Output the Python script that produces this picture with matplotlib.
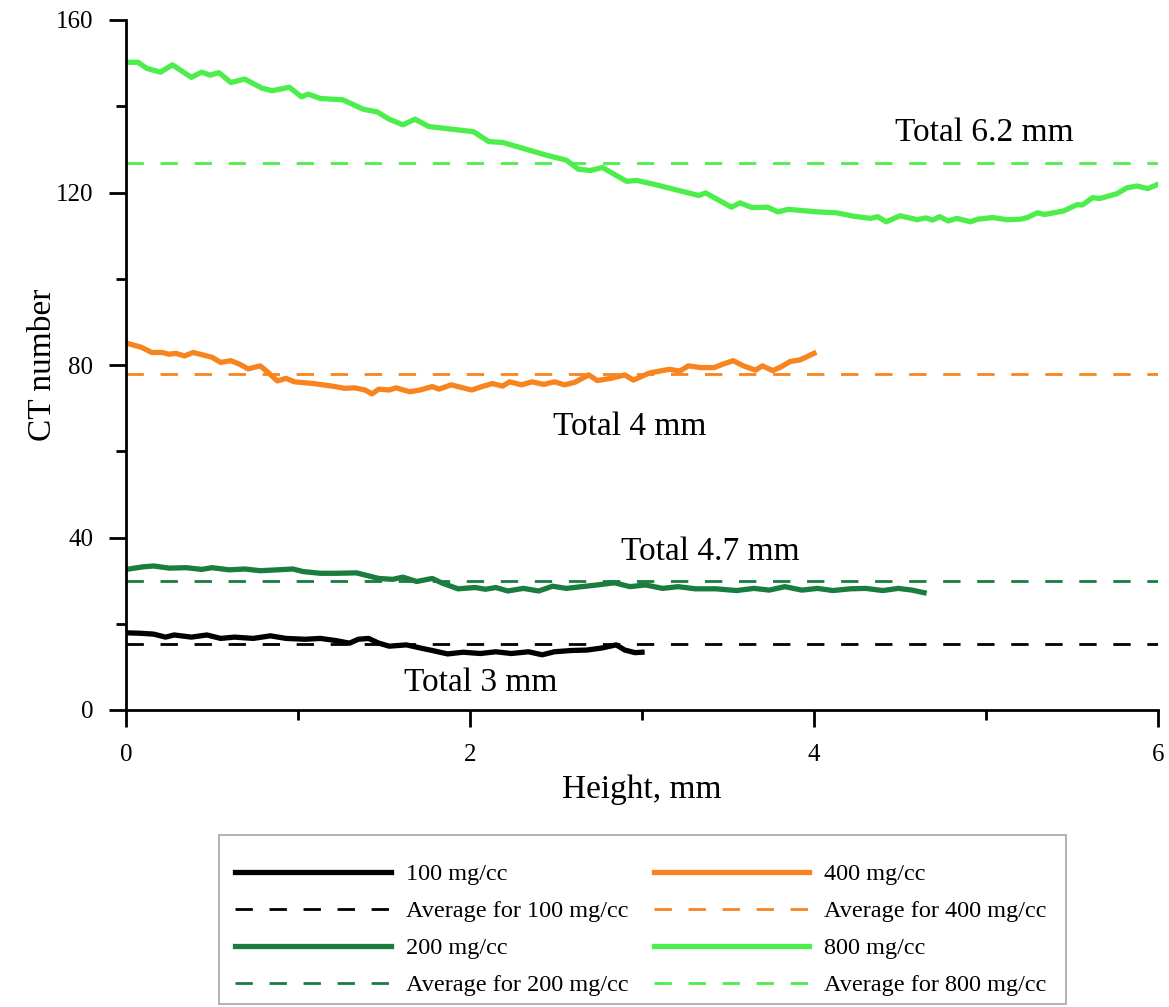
import matplotlib
matplotlib.use("Agg")
from matplotlib import pyplot as plt
from matplotlib.patches import Rectangle
from matplotlib.ticker import MultipleLocator

plt.rcParams['font.family'] = ['Liberation Serif', 'DejaVu Serif']
plt.rcParams['lines.scale_dashes'] = False

# 100 mg/cc (black)
h100 = [0.00, 0.08, 0.16, 0.23, 0.28, 0.38, 0.47, 0.55, 0.63, 0.74, 0.84, 0.93, 1.04, 1.13,
        1.22, 1.30, 1.35, 1.41, 1.47, 1.53, 1.63, 1.72, 1.78, 1.87, 1.96, 2.06, 2.15, 2.24,
        2.34, 2.42, 2.49, 2.59, 2.68, 2.77, 2.85, 2.90, 2.96, 3.00]
ct100 = [17.9, 17.8, 17.6, 16.9, 17.4, 16.9, 17.4, 16.6, 16.9, 16.6, 17.2, 16.6, 16.4, 16.6,
         16.1, 15.5, 16.4, 16.6, 15.5, 14.8, 15.1, 14.3, 13.8, 13.0, 13.4, 13.1, 13.5, 13.1,
         13.5, 12.8, 13.5, 13.8, 13.9, 14.4, 15.1, 13.9, 13.3, 13.4]

# 200 mg/cc (dark green)
h200 = [0.00, 0.10, 0.16, 0.25, 0.35, 0.44, 0.50, 0.60, 0.69, 0.78, 0.88, 0.97, 1.03, 1.13,
        1.22, 1.34, 1.41, 1.47, 1.55, 1.61, 1.69, 1.78, 1.84, 1.93, 2.03, 2.09, 2.15, 2.22,
        2.31, 2.40, 2.48, 2.56, 2.65, 2.74, 2.84, 2.93, 3.02, 3.12, 3.21, 3.31, 3.43, 3.55,
        3.65, 3.74, 3.83, 3.93, 4.02, 4.11, 4.21, 4.30, 4.40, 4.49, 4.57, 4.64]
ct200 = [32.6, 33.2, 33.4, 32.9, 33.0, 32.6, 33.0, 32.5, 32.7, 32.3, 32.5, 32.7, 32.1, 31.7,
         31.7, 31.8, 31.1, 30.5, 30.3, 30.8, 29.8, 30.5, 29.4, 28.1, 28.4, 28.0, 28.4, 27.6,
         28.2, 27.6, 28.7, 28.2, 28.6, 29.0, 29.5, 28.6, 29.0, 28.2, 28.6, 28.1, 28.1, 27.7,
         28.2, 27.8, 28.6, 27.8, 28.2, 27.7, 28.1, 28.2, 27.7, 28.2, 27.8, 27.2]

# 400 mg/cc (orange)
h400 = [0.01, 0.09, 0.15, 0.21, 0.25, 0.29, 0.34, 0.39, 0.43, 0.50, 0.55, 0.61, 0.66, 0.71,
        0.78, 0.82, 0.88, 0.93, 0.98, 1.09, 1.20, 1.27, 1.33, 1.39, 1.43, 1.47, 1.53, 1.57,
        1.65, 1.71, 1.78, 1.82, 1.89, 1.96, 2.01, 2.07, 2.13, 2.19, 2.23, 2.30, 2.36, 2.43,
        2.49, 2.55, 2.61, 2.69, 2.74, 2.82, 2.90, 2.95, 3.04, 3.09, 3.16, 3.22, 3.27, 3.34,
        3.42, 3.47, 3.53, 3.59, 3.66, 3.70, 3.76, 3.81, 3.86, 3.92, 4.00]
ct400 = [85.0, 84.1, 82.9, 82.9, 82.5, 82.7, 82.1, 82.9, 82.5, 81.8, 80.6, 81.0, 80.2, 79.1,
         79.8, 78.5, 76.3, 76.9, 76.1, 75.7, 75.1, 74.6, 74.7, 74.2, 73.3, 74.4, 74.2, 74.7,
         73.8, 74.2, 75.0, 74.4, 75.4, 74.7, 74.2, 75.0, 75.7, 75.1, 76.1, 75.4, 76.1, 75.5,
         76.1, 75.4, 76.0, 77.7, 76.4, 76.9, 77.7, 76.5, 78.1, 78.5, 79.0, 78.6, 79.8, 79.4,
         79.4, 80.2, 81.0, 79.8, 78.8, 79.8, 78.7, 79.6, 80.8, 81.2, 82.7]

# 800 mg/cc (light green)
h800 = [0.00, 0.07, 0.12, 0.20, 0.27, 0.38, 0.44, 0.49, 0.54, 0.61, 0.69, 0.79, 0.85, 0.95,
        1.02, 1.06, 1.13, 1.26, 1.38, 1.46, 1.53, 1.61, 1.68, 1.76, 1.89, 2.02, 2.11, 2.19,
        2.32, 2.44, 2.56, 2.63, 2.70, 2.77, 2.91, 2.97, 3.07, 3.25, 3.33, 3.37, 3.52, 3.57,
        3.64, 3.73, 3.79, 3.85, 4.02, 4.13, 4.23, 4.33, 4.37, 4.42, 4.50, 4.60, 4.65, 4.69,
        4.73, 4.78, 4.83, 4.91, 4.95, 5.04, 5.12, 5.20, 5.24, 5.30, 5.34, 5.45, 5.53, 5.56,
        5.62, 5.66, 5.76, 5.82, 5.88, 5.94, 6.00]
ct800 = [150.2, 150.2, 148.8, 147.9, 149.6, 146.7, 147.9, 147.2, 147.8, 145.5, 146.3, 144.2,
         143.6, 144.4, 142.2, 142.8, 141.8, 141.5, 139.3, 138.7, 137.0, 135.7, 137.0, 135.3,
         134.7, 134.1, 131.8, 131.6, 130.1, 128.7, 127.5, 125.4, 125.1, 125.8, 122.6, 122.8,
         121.9, 120.1, 119.3, 119.9, 116.6, 117.6, 116.5, 116.6, 115.5, 116.1, 115.5, 115.3,
         114.5, 114.0, 114.4, 113.2, 114.6, 113.7, 114.1, 113.6, 114.4, 113.4, 114.0, 113.2,
         113.8, 114.2, 113.7, 113.8, 114.2, 115.3, 114.9, 115.7, 117.2, 117.1, 118.8, 118.6,
         119.7, 121.1, 121.5, 120.9, 121.9]

avg100 = 15.3
avg200 = 29.8
avg400 = 77.8
avg800 = 126.9

totals = ['Total 3 mm', 'Total 4.7 mm', 'Total 4 mm', 'Total 6.2 mm']
total_x = [2.06, 3.40, 2.93, 4.99]
total_y = [6.3, 36.6, 65.6, 133.8]

c100 = 'black'
c200 = '#1a7c3e'
c400 = '#f7841e'
c800 = '#4cee4c'

W, H = 1169, 1007
fig = plt.figure(figsize=(W / 100, H / 100), dpi=100)
ax = fig.add_axes([126 / W, 1 - 710 / H, (1158 - 126) / W, (710 - 20) / H])

lw = 3.8
dlw = 2.0
dash = (12.5, 12.0)
l1, = ax.plot(h100, ct100, color=c100, lw=lw, label='100 mg/cc')
d1 = ax.axhline(avg100, color=c100, lw=dlw, dashes=dash, label='Average for 100 mg/cc')
l2, = ax.plot(h200, ct200, color=c200, lw=lw, label='200 mg/cc')
d2 = ax.axhline(avg200, color=c200, lw=dlw, dashes=dash, label='Average for 200 mg/cc')
l4, = ax.plot(h400, ct400, color=c400, lw=lw, label='400 mg/cc')
d4 = ax.axhline(avg400, color=c400, lw=dlw, dashes=dash, label='Average for 400 mg/cc')
l8, = ax.plot(h800, ct800, color=c800, lw=lw, label='800 mg/cc')
d8 = ax.axhline(avg800, color=c800, lw=dlw, dashes=dash, label='Average for 800 mg/cc')

for t, x, y in zip(totals, total_x, total_y):
    ax.text(x, y, t, fontsize=24, ha='center', va='center')

ax.set_xlim(0, 6)
ax.set_ylim(0, 160)
ax.xaxis.set_major_locator(MultipleLocator(2))
ax.xaxis.set_minor_locator(MultipleLocator(1))
ax.yaxis.set_major_locator(MultipleLocator(40))
ax.yaxis.set_minor_locator(MultipleLocator(20))
ax.spines['top'].set_visible(False)
ax.spines['right'].set_visible(False)
ax.spines['left'].set_linewidth(2)
ax.spines['bottom'].set_linewidth(2)
ax.tick_params(which='major', length=12.5, width=2, labelsize=18)
ax.tick_params(which='minor', length=7.5, width=2)
ax.tick_params(axis='x', which='major', pad=12)
ax.tick_params(axis='y', which='major', pad=11)

ax.set_xlabel('Height, mm', fontsize=24)
ax.set_ylabel('CT number', fontsize=24)
ax.xaxis.set_label_coords(0.5, -0.093)
ax.yaxis.set_label_coords(-0.066, 0.5)

handles = [l1, d1, l2, d2, l4, d4, l8, d8]
leg = fig.legend(handles=handles, ncol=2, loc='upper left',
                 bbox_to_anchor=(235 / W, 1 - 863 / H), frameon=False,
                 fontsize=17.5, handlelength=6.4, handletextpad=0.62,
                 columnspacing=1.05, labelspacing=0.62, borderpad=0, borderaxespad=0)

fig.patches.append(Rectangle((219 / W, 1 - 1004 / H), (1066 - 219) / W, (1004 - 835) / H,
                             transform=fig.transFigure, fill=False,
                             edgecolor='#a6a6a6', lw=1.2))

fig.savefig('out.png', dpi=100)
